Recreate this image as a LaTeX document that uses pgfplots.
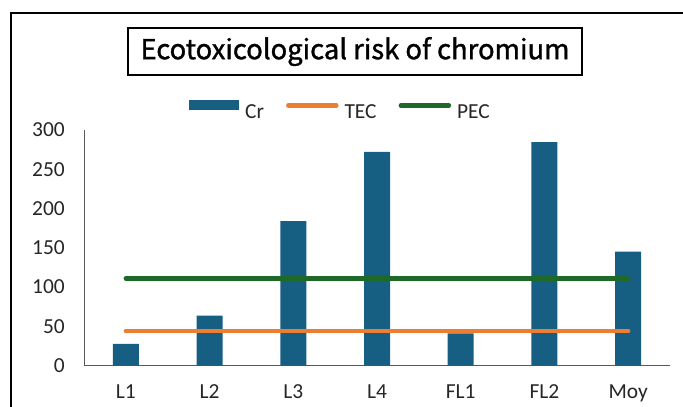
\documentclass[border=0pt]{standalone}
\usepackage{fontspec}
\setmainfont{Carlito}
\newfontfamily\titlefont{Noto Sans CJK SC}[FakeBold=1.3]
\usepackage{pgfplots}
\pgfplotsset{compat=1.18}
\definecolor{crblue}{RGB}{22,94,130}
\definecolor{tecorange}{RGB}{237,125,49}
\definecolor{pecgreen}{RGB}{30,105,40}
\begin{document}
\begin{tikzpicture}[x=1bp,y=1bp]
\useasboundingbox (0,0) rectangle (683,406);
\begin{scope}
\clip (0,0) rectangle (683,406);
\draw[line width=2.5bp] (11,-20) -- (11,393) -- (720,393);
\end{scope}
\node[draw, line width=2bp, minimum width=454bp, minimum height=47bp, inner sep=0pt,
  font=\titlefont\fontsize{27.5}{30}\selectfont] at (355,354.5) {Ecotoxicological risk of chromium};
\begin{axis}[
  at={(84bp,40.5bp)}, anchor=south west,
  scale only axis, width=586bp, height=235.5bp,
  xmin=-0.5, xmax=6.5, ymin=0, ymax=300,
  axis lines*=left,
  axis line style={-, draw=black!65, line width=0.9bp},
  ytick={0,50,...,300},
  xtick={0,...,6},
  xticklabels={L1,L2,L3,L4,FL1,FL2,Moy},
  major tick length=0pt,
  tick label style={font=\fontsize{21.5}{24}\selectfont, text=black!85},
  /pgf/number format/assume math mode=true,
  yticklabel style={anchor=east, inner sep=0pt, xshift=-19bp},
  xticklabel style={anchor=base, inner sep=0pt, yshift=-32.5bp},
  legend columns=3,
  legend style={at={(0.436,1.084)}, anchor=center, draw=none, fill=none,
    font=\fontsize{21.5}{24}\selectfont, text=black!85,
    nodes={inner sep=0pt},
    /tikz/every odd column/.append style={column sep=6bp},
    /tikz/every even column/.append style={column sep=22bp}},
]
\addplot[ybar, bar width=26bp, bar shift=0pt, fill=crblue, draw=none,
  legend image code/.code={\fill[crblue] (0bp,2bp) rectangle (50bp,12bp);}]
  coordinates {(0,27.6) (1,63.5) (2,184) (3,272) (4,41) (5,284.6) (6,145)};
\addlegendentry{Cr}
\addplot[tecorange, line width=4.5bp, line cap=round,
  legend image code/.code={\draw[tecorange, line width=4.5bp, line cap=round] (2bp,7bp) -- (50bp,7bp);}]
  coordinates {(0,44) (1,44) (2,44) (3,44) (4,44) (5,44) (6,44)};
\addlegendentry{TEC}
\addplot[pecgreen, line width=4.5bp, line cap=round,
  legend image code/.code={\draw[pecgreen, line width=4.5bp, line cap=round] (2bp,7bp) -- (50bp,7bp);}]
  coordinates {(0,111) (1,111) (2,111) (3,111) (4,111) (5,111) (6,111)};
\addlegendentry{PEC}
\end{axis}
\end{tikzpicture}
\end{document}
